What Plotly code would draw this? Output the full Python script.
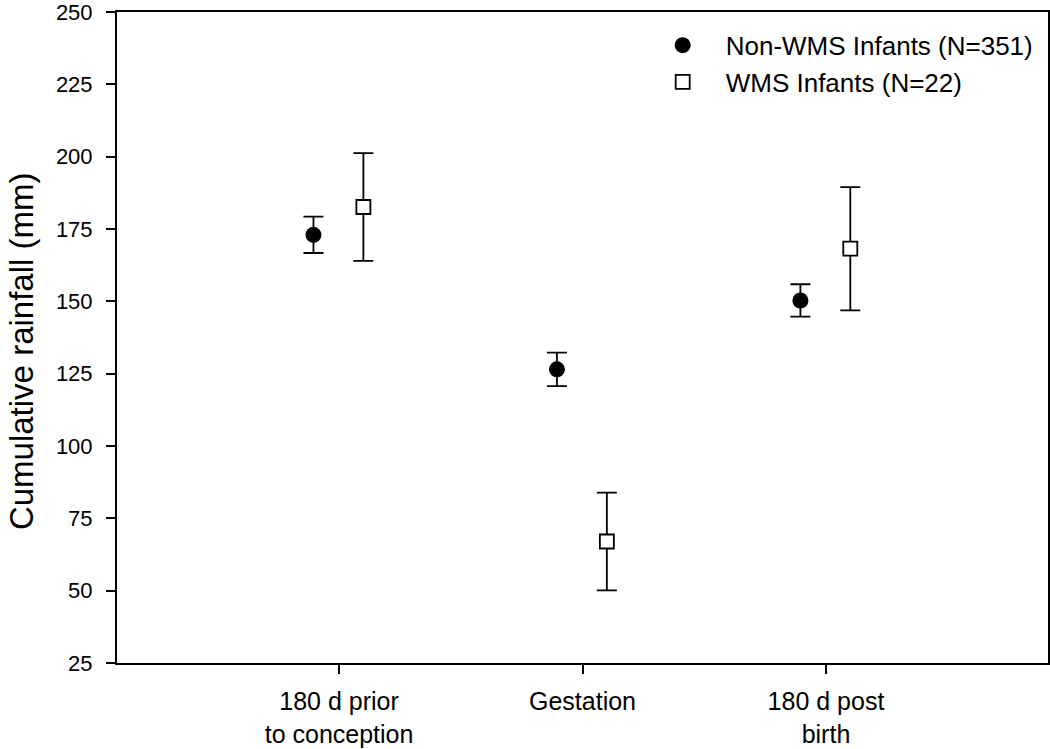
import plotly.graph_objects as go

categories = ["180 d prior<br>to conception", "Gestation", "180 d post<br>birth"]
cat_pos = [1, 2, 3]
non_wms_mean = [173.0, 126.5, 150.3]
non_wms_err = [6.3, 5.8, 5.6]
wms_mean = [182.6, 67.0, 168.2]
wms_err = [18.6, 16.9, 21.3]
y_ticks = [25, 50, 75, 100, 125, 150, 175, 200, 225, 250]
y_title = "Cumulative rainfall (mm)"

font = "Liberation Sans, Arial, sans-serif"

fig = go.Figure()
fig.add_trace(go.Scatter(
    x=[c - 0.105 for c in cat_pos], y=non_wms_mean,
    mode="markers", name="Non-WMS Infants (N=351)",
    marker=dict(symbol="circle", size=16, color="black", line=dict(width=0)),
    error_y=dict(type="data", array=non_wms_err, color="black", thickness=1.8, width=10),
))
fig.add_trace(go.Scatter(
    x=[c + 0.1 for c in cat_pos], y=wms_mean,
    mode="markers", name="WMS Infants (N=22)",
    marker=dict(symbol="square", size=14, color="white", line=dict(width=1.8, color="black")),
    error_y=dict(type="data", array=wms_err, color="black", thickness=1.8, width=10),
))

fig.add_annotation(
    text=y_title, textangle=-90, xref="paper", yref="paper",
    x=-0.1032, y=0.479, xanchor="center", yanchor="middle", showarrow=False,
    font=dict(size=33, family=font, color="black"),
)

fig.update_layout(
    width=1050, height=749,
    margin=dict(l=117, r=2, t=12, b=86),
    paper_bgcolor="white", plot_bgcolor="white",
    font=dict(family=font, size=24, color="black"),
    showlegend=True,
    legend=dict(x=0.99, y=0.985, xanchor="right", yanchor="top",
                bgcolor="rgba(0,0,0,0)", font=dict(size=26, family=font),
                itemwidth=76, tracegroupgap=0),
    xaxis=dict(range=[0.088, 3.912], tickmode="array", tickvals=cat_pos, ticktext=categories,
               showgrid=False, zeroline=False, showline=True, linecolor="black", linewidth=2,
               mirror=True, ticks="outside", ticklen=9, tickwidth=2, tickcolor="black",
               tickfont=dict(size=25, family=font), automargin=False, ticklabelstandoff=6),
    yaxis=dict(range=[25, 250], tickmode="array", tickvals=y_ticks,
               showgrid=False, zeroline=False, showline=True, linecolor="black", linewidth=2,
               mirror=True, ticks="outside", ticklen=9, tickwidth=2, tickcolor="black",
               tickfont=dict(size=22, family=font), automargin=False, ticklabelstandoff=9,
               ticklabeloverflow="allow"),
)

fig.write_html("out.html", config={"displayModeBar": False},
               post_script="document.body.style.margin='0';")
